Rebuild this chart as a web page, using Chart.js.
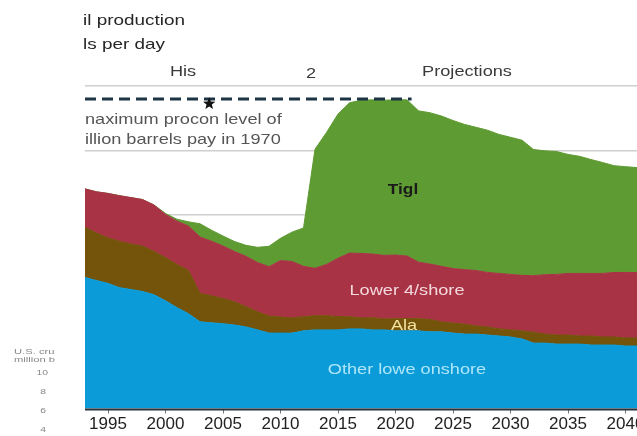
<!DOCTYPE html>
<html><head><meta charset="utf-8">
<script src="https://cdn.jsdelivr.net/npm/chart.js@4.4.0/dist/chart.umd.min.js"></script>
<style>html,body{margin:0;padding:0;background:#fff;}#wrap{width:637px;height:436px;}</style>
</head><body><div id="wrap"><canvas id="c" width="637" height="436"></canvas></div>
<script>
const years = [1993,1994,1995,1996,1997,1998,1999,2000,2001,2002,2003,2004,2005,2006,2007,2008,2009,2010,2011,2012,2013,2014,2015,2016,2017,2018,2019,2020,2021,2022,2023,2024,2025,2026,2027,2028,2029,2030,2031,2032,2033,2034,2035,2036,2037,2038,2039,2040,2041];
const otherOnshore = [4.06,3.97,3.88,3.75,3.69,3.63,3.53,3.34,3.13,2.94, 2.69,2.66,2.63,2.59,2.53,2.44,2.34,2.34,2.34,2.41, 2.44,2.44,2.44,2.47,2.47,2.44,2.44,2.41,2.41,2.41, 2.38,2.38,2.34,2.31,2.31,2.28,2.25,2.22,2.16,2.03, 2.03,2.00,2.00,2.00,1.97,1.97,1.97,1.94,1.94];
const alaska = [1.56,1.47,1.41,1.44,1.41,1.41,1.34,1.34,1.34,1.34, 0.88,0.84,0.78,0.72,0.63,0.56,0.53,0.50,0.47,0.44, 0.44,0.44,0.41,0.38,0.34,0.38,0.34,0.38,0.38,0.38, 0.38,0.31,0.31,0.31,0.25,0.25,0.22,0.22,0.25,0.34, 0.28,0.28,0.28,0.25,0.28,0.25,0.25,0.25,0.25];
const offshore = [1.19,1.28,1.38,1.41,1.44,1.44,1.44,1.34,1.34,1.38, 1.75,1.69,1.63,1.56,1.56,1.53,1.53,1.75,1.75,1.56, 1.47,1.59,1.81,1.97,2.00,1.97,1.97,1.97,1.94,1.75, 1.72,1.72,1.69,1.69,1.72,1.69,1.72,1.72,1.72,1.75, 1.84,1.88,1.91,1.94,1.94,1.97,2.00,2.03,2.03];
const tightOil = [0,0,0,0,0,0,0,0.03,0.06,0.13, 0.41,0.34,0.31,0.31,0.34,0.47,0.63,0.69,0.91,1.19, 3.69,4.09,4.47,4.66,4.75,4.78,4.81,4.81,4.84,4.69, 4.69,4.66,4.59,4.50,4.44,4.41,4.31,4.25,4.19,3.91, 3.84,3.81,3.69,3.63,3.53,3.44,3.31,3.28,3.25];
const xTickYears = [1995,2000,2005,2010,2015,2020,2025,2030,2035,2040];
const yTickValues = [0,2,4,6,8,10];
const maxLevel = 9.6;
const maxLevelSpan = [1993, 2021.4];
const starPoint = {x: 2003.8, y: 9.45};

const seriesNames = ['Other lower 48 onshore','Alaska','Lower 48 offshore','Tight oil'];
const seriesValues = [otherOnshore, alaska, offshore, tightOil];
const seriesColors = ['#0b9bd9','#73540a','#a83345','#5f9b33'];

const FONT = '"Liberation Sans", Arial, sans-serif';

const datasets = seriesValues.map((vals, k) => ({
  label: seriesNames[k],
  data: years.map((yr, i) => ({x: yr, y: vals[i]})),
  backgroundColor: seriesColors[k],
  borderColor: seriesColors[k],
  borderWidth: 1,
  pointRadius: 0,
  tension: 0,
  fill: k === 0 ? 'origin' : '-1',
  stack: 'prod',
  order: 1
}));
datasets.push({
  label: 'max 1970',
  data: maxLevelSpan.map(x => ({x: x, y: maxLevel})),
  borderColor: '#1c3444',
  borderWidth: 3,
  borderDash: [11, 6],
  pointRadius: 0,
  fill: false,
  stack: 'ref',
  order: 0
});

function wideText(ctx, text, x, y, align, sx) {
  ctx.save();
  ctx.translate(x, y);
  ctx.scale(sx, 1);
  ctx.textAlign = align;
  ctx.fillText(text, 0, 0);
  ctx.restore();
}

const textPlugin = {
  id: 'texts',
  afterDraw(chart) {
    const ctx = chart.ctx;
    const xs = chart.scales.x, ys = chart.scales.y;
    const ca = chart.chartArea;
    const S = 1.21;
    ctx.save();
    // axis baseline
    ctx.strokeStyle = '#24343e';
    ctx.lineWidth = 2;
    ctx.beginPath();
    ctx.moveTo(ca.left, ca.bottom + 1);
    ctx.lineTo(ca.right, ca.bottom + 1);
    ctx.stroke();
    ctx.textBaseline = 'middle';
    // header
    ctx.fillStyle = '#262626';
    ctx.font = '15px ' + FONT;
    wideText(ctx, 'il production', 83, 21, 'left', 1.26);
    wideText(ctx, 'ls per day', 83, 45, 'left', 1.26);
    ctx.fillStyle = '#3a3a3a';
    wideText(ctx, 'His', 183, 72, 'center', S);
    wideText(ctx, '2', 311, 74, 'center', S);
    wideText(ctx, 'Projections', 467, 72, 'center', S);
    // annotation
    ctx.fillStyle = '#555';
    wideText(ctx, 'naximum procon level of', 85, 120, 'left', S);
    wideText(ctx, 'illion barrels pay in 1970', 85, 140, 'left', S);
    // star
    const sx = xs.getPixelForValue(starPoint.x), sy = ys.getPixelForValue(starPoint.y);
    ctx.fillStyle = '#111';
    ctx.beginPath();
    for (let i = 0; i < 10; i++) {
      const r = i % 2 === 0 ? 6.5 : 2.8;
      const a = -Math.PI / 2 + i * Math.PI / 5;
      const px = sx + r * Math.cos(a), py = sy + r * Math.sin(a);
      if (i === 0) ctx.moveTo(px, py); else ctx.lineTo(px, py);
    }
    ctx.closePath();
    ctx.fill();
    // area labels
    ctx.font = 'bold 15px ' + FONT;
    ctx.fillStyle = '#1a1a1a';
    wideText(ctx, 'Tigl', 403, 190, 'center', 1.15);
    ctx.font = '15px ' + FONT;
    ctx.fillStyle = '#f3d9dd';
    wideText(ctx, 'Lower 4/shore', 407, 291, 'center', S);
    ctx.fillStyle = '#f4e2a0';
    wideText(ctx, 'Ala', 404, 326, 'center', S);
    ctx.fillStyle = '#aee6f8';
    wideText(ctx, 'Other lowe onshore', 407, 370, 'center', S);
    // small inset text at lower left
    ctx.fillStyle = '#888';
    ctx.font = '8px ' + FONT;
    wideText(ctx, 'U.S. cru', 14, 352, 'left', 1.4);
    wideText(ctx, 'million b', 14, 360, 'left', 1.4);
    wideText(ctx, '10', 48, 373, 'right', 1.3);
    wideText(ctx, '8', 46, 392, 'right', 1.3);
    wideText(ctx, '6', 46, 411, 'right', 1.3);
    wideText(ctx, '4', 46, 430, 'right', 1.3);
    ctx.restore();
  }
};

new Chart(document.getElementById('c'), {
  type: 'line',
  data: { datasets },
  options: {
    responsive: false,
    animation: false,
    devicePixelRatio: 1,
    layout: { autoPadding: false, padding: { left: 85, top: 86, right: 0, bottom: 0 } },
    plugins: { legend: { display: false }, tooltip: { enabled: false }, title: { display: false } },
    scales: {
      x: {
        type: 'linear', min: 1993, max: 2041,
        afterBuildTicks: s => { s.ticks = xTickYears.map(v => ({ value: v })); },
        afterFit: s => { s.paddingLeft = 0; s.paddingRight = 0; },
        grid: { drawOnChartArea: false, drawTicks: true, tickLength: 5, color: '#777', lineWidth: 1 },
        border: { display: false },
        ticks: { font: { family: FONT, size: 17 }, color: '#222', padding: 1, maxRotation: 0, autoSkip: false, callback: v => String(v) }
      },
      y: {
        stacked: true, min: 0, max: 10,
        afterBuildTicks: s => { s.ticks = yTickValues.map(v => ({ value: v })); },
        afterFit: s => { s.width = 0; s.paddingTop = 0; s.paddingBottom = 0; },
        grid: { color: '#cfcfcf', lineWidth: 1.5, drawTicks: false },
        border: { display: false },
        ticks: { display: false }
      }
    }
  },
  plugins: [textPlugin]
});
</script>
</body></html>
